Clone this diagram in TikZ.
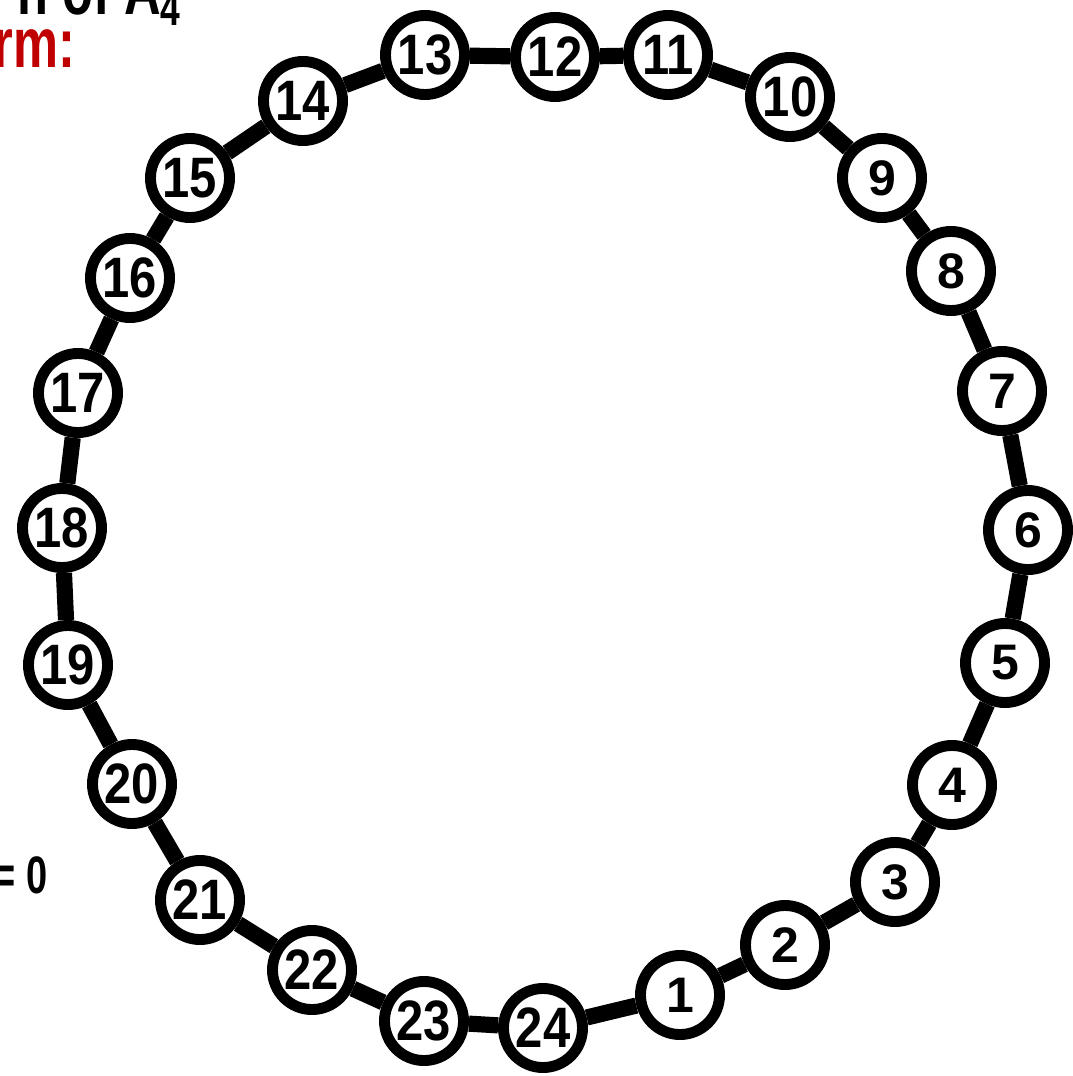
\documentclass[tikz,border=0pt]{standalone}
\usepackage{fontspec}
\newfontfamily\ringfont{Liberation Sans}[FakeStretch=0.86]
\newfontfamily\onefont{Liberation Sans}
\newfontfamily\capfont{Liberation Sans}[FakeStretch=0.72]
\usetikzlibrary{positioning}
\definecolor{titlered}{RGB}{192,0,0}

\newcommand{\ringlabel}[1]{%
  \ifnum#1<10 {\onefont\bfseries\fontsize{14.2}{15}\selectfont#1}%
  \else {\ringfont\bfseries\fontsize{16.2}{18}\selectfont#1}\fi}

\begin{document}
\begin{tikzpicture}[x=0.01cm, y=-0.01cm,
    vertex/.style={circle, draw=black, fill=white, line width=3.1pt,
      minimum size=0.79cm, inner sep=0pt},
    link/.style={line width=4.6pt, black},
    caption/.style={anchor=base east, inner sep=0pt}]
      \useasboundingbox (0,0) rectangle (1073,1076);
      \clip (0,0) rectangle (1073,1076);

      % text cut off at the left edge
      \node [caption, font=\capfont\bfseries\fontsize{20}{22}\selectfont] (head) at (183,15) {n of A\textsubscript{4}};
      \node [caption, titlered, font=\capfont\bfseries\fontsize{20}{22}\selectfont] (form) at (76,68) {rm:};
      \node [caption, font=\capfont\bfseries\fontsize{15}{17}\selectfont] (eq) at (48,893) {= 0};

      % the ring of 24 vertices
      \foreach \i/\x/\y in {1/680/995, 2/785/945, 3/895/882, 4/952/785,
          5/1005/663, 6/1028/530, 7/1002/391, 8/951/271, 9/882/178,
          10/790/97, 11/668/55, 12/555/57, 13/425/55, 14/303/101,
          15/190/178, 16/130/278, 17/78/393, 18/62/528, 19/68/665,
          20/132/784, 21/200/900, 22/312/970, 23/424/1021, 24/543/1028}
        \node [vertex] (v\i) at (\x,\y) {\ringlabel{\i}};

      % edges between neighbours
      \foreach \i [evaluate=\i as \j using {int(mod(\i,24)+1)}] in {1,...,24}
        \draw [link] (v\i) -- (v\j);
    \end{tikzpicture}
\end{document}
